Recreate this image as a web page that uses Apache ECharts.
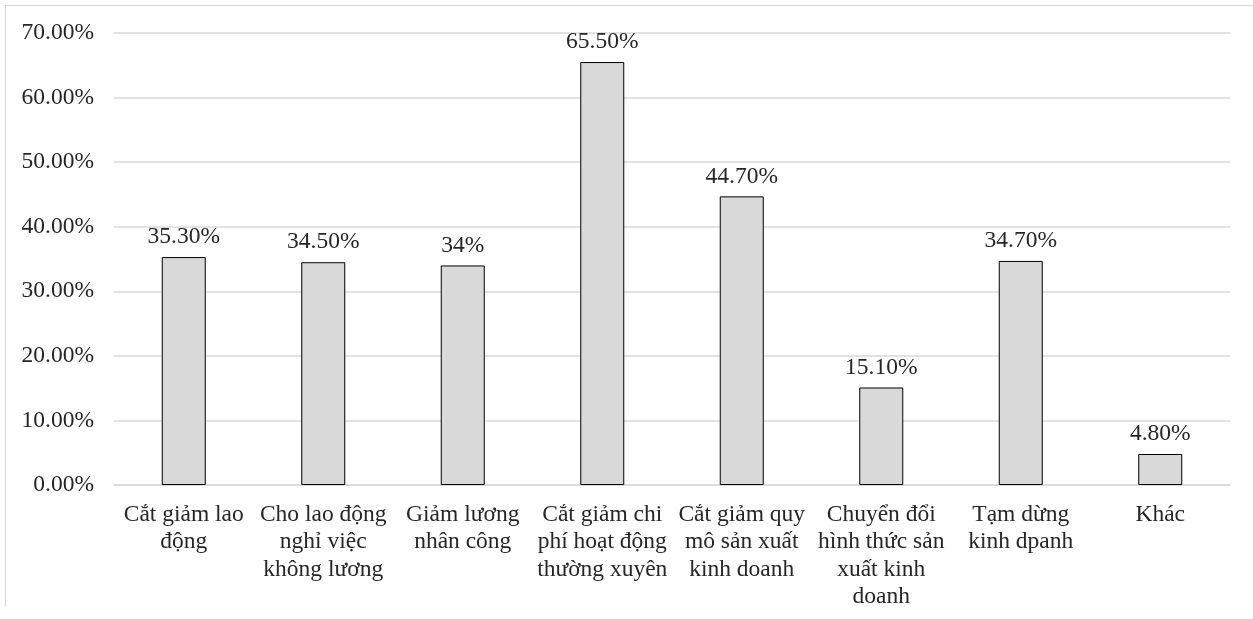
<!DOCTYPE html>
<html>
<head>
<meta charset="utf-8">
<script src="https://cdn.jsdelivr.net/npm/echarts@6/dist/echarts.min.js"></script>
<style>
  html, body { margin: 0; padding: 0; background: #fff; }
  #wrap { position: relative; width: 1253px; height: 619px; }
  #chart { width: 1253px; height: 619px; }
  .frame { position: absolute; left: 5px; top: 5px; width: 1260px; height: 600px; border-top: 1px solid #d9d9d9; border-left: 1px solid #d9d9d9; pointer-events: none; }
</style>
</head>
<body>
<div id="wrap">
  <div id="chart"></div>
  <div class="frame"></div>
</div>
<script>
const categories = [
  'Cắt giảm lao\nđộng',
  'Cho lao động\nnghỉ việc\nkhông lương',
  'Giảm lương\nnhân công',
  'Cắt giảm chi\nphí hoạt động\nthường xuyên',
  'Cắt giảm quy\nmô sản xuất\nkinh doanh',
  'Chuyển đổi\nhình thức sản\nxuất kinh\ndoanh',
  'Tạm dừng\nkinh dpanh',
  'Khác'
]
const values = [35.3, 34.5, 34, 65.5, 44.7, 15.1, 34.7, 4.8]
const valueLabels = ['35.30%', '34.50%', '34%', '65.50%', '44.70%', '15.10%', '34.70%', '4.80%']

const font = '"Liberation Serif", "Times New Roman", serif'
const textColor = '#262626'

const chart = echarts.init(document.getElementById('chart'))
chart.setOption({
  animation: false,
  grid: { left: 114, right: 23, top: 33, bottom: 134 },
  xAxis: {
    type: 'category',
    data: categories,
    axisLine: { lineStyle: { color: '#d9d9d9', width: 1.5 } },
    axisTick: { show: false },
    axisLabel: { color: textColor, fontFamily: font, fontSize: 23.5, lineHeight: 27.5, margin: 16, interval: 0 }
  },
  yAxis: {
    type: 'value',
    min: 0,
    max: 70,
    interval: 10,
    axisLine: { show: false },
    axisTick: { show: false },
    splitLine: { lineStyle: { color: '#d9d9d9', width: 1.5 } },
    axisLabel: { color: textColor, fontFamily: font, fontSize: 23.5, margin: 20, formatter: v => v.toFixed(2) + '%' }
  },
  series: [{
    type: 'bar',
    data: values,
    barWidth: 44,
    itemStyle: { color: '#d9d9d9', borderColor: '#000', borderWidth: 1 },
    label: {
      show: true,
      position: 'top',
      distance: 8,
      color: textColor,
      fontFamily: font,
      fontSize: 23.5,
      formatter: p => valueLabels[p.dataIndex]
    }
  }]
})
</script>
</body>
</html>
